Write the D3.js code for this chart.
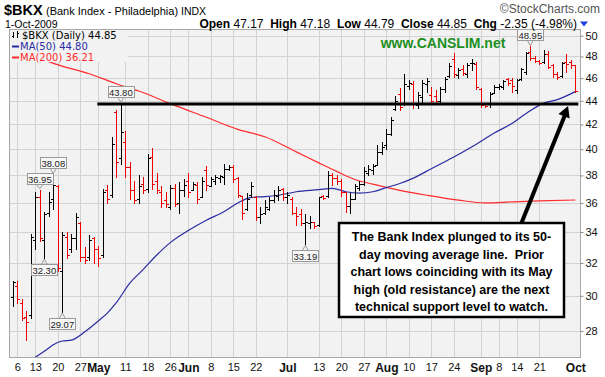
<!DOCTYPE html>
<html><head><meta charset="utf-8">
<script src="https://cdn.jsdelivr.net/npm/d3@7"></script>
<style>
body{margin:0;background:#fff;}
svg{display:block;font-family:"Liberation Sans",Arial,sans-serif;}
</style>
</head><body>
<svg id="chart" width="605" height="377"></svg>
<script>
// ---------------- DATA ----------------
const dates = [
"2009-04-03","2009-04-06","2009-04-07","2009-04-08","2009-04-09",
"2009-04-13","2009-04-14","2009-04-15","2009-04-16","2009-04-17",
"2009-04-20","2009-04-21","2009-04-22","2009-04-23","2009-04-24",
"2009-04-27","2009-04-28","2009-04-29","2009-04-30","2009-05-01",
"2009-05-04","2009-05-05","2009-05-06","2009-05-07","2009-05-08",
"2009-05-11","2009-05-12","2009-05-13","2009-05-14","2009-05-15",
"2009-05-18","2009-05-19","2009-05-20","2009-05-21","2009-05-22",
"2009-05-26","2009-05-27","2009-05-28","2009-05-29",
"2009-06-01","2009-06-02","2009-06-03","2009-06-04","2009-06-05",
"2009-06-08","2009-06-09","2009-06-10","2009-06-11","2009-06-12",
"2009-06-15","2009-06-16","2009-06-17","2009-06-18","2009-06-19",
"2009-06-22","2009-06-23","2009-06-24","2009-06-25","2009-06-26",
"2009-06-29","2009-06-30","2009-07-01","2009-07-02",
"2009-07-06","2009-07-07","2009-07-08","2009-07-09","2009-07-10",
"2009-07-13","2009-07-14","2009-07-15","2009-07-16","2009-07-17",
"2009-07-20","2009-07-21","2009-07-22","2009-07-23","2009-07-24",
"2009-07-27","2009-07-28","2009-07-29","2009-07-30","2009-07-31",
"2009-08-03","2009-08-04","2009-08-05","2009-08-06","2009-08-07",
"2009-08-10","2009-08-11","2009-08-12","2009-08-13","2009-08-14",
"2009-08-17","2009-08-18","2009-08-19","2009-08-20","2009-08-21",
"2009-08-24","2009-08-25","2009-08-26","2009-08-27","2009-08-28",
"2009-08-31","2009-09-01","2009-09-02","2009-09-03","2009-09-04",
"2009-09-08","2009-09-09","2009-09-10","2009-09-11",
"2009-09-14","2009-09-15","2009-09-16","2009-09-17","2009-09-18",
"2009-09-21","2009-09-22","2009-09-23","2009-09-24","2009-09-25",
"2009-09-28","2009-09-29","2009-09-30","2009-10-01"];

const opens = [29.9,30.6,29.6,28.8,28.9, 33.5,36.4,33.5,35.3,36.3, 37.2,31.5,33.7,32.9,33.6,
 34.6,32.4,32.4,33.6,32.9, 32.5,36.9,36.6,43.0,39.3, 40.6,38.6,36.9,36.3,37.4, 37.0,39.4,37.6,36.8,36.2,
 35.7,37.1,36.0,36.9, 37.6,36.9,37.3,36.4,38.4, 37.2,37.6,37.8,37.9,38.5, 38.6,37.8,36.5,35.6,36.6,
 36.4,35.0,35.3,35.6,36.2, 36.5,37.0,36.4,36.3, 35.3,35.2,34.6,34.6,34.7, 34.5,36.5,36.5,38.0,37.8,
 37.6,36.8,35.8,36.3,37.1, 37.4,38.2,38.4,38.8,39.8, 40.3,41.2,43.3,44.6,43.8, 45.3,45.5,43.6,44.3,45.5,
 44.5,44.4,44.0,45.0,46.2, 47.8,46.3,46.8,46.4,47.4, 47.3,45.0,43.7,43.7,44.7, 45.2,45.2,45.9,45.8,
 44.9,45.9,46.6,48.4,47.9, 47.6,47.5,48.2,47.2,46.4, 46.2,47.5,47.5,47.17];
const highs = [30.9,30.9,29.8,29.1,33.9, 36.8,36.95,35.4,36.8,38.08, 37.3,34.0,34.0,33.9,35.3,
 34.7,33.0,33.8,33.7,33.1, 37.0,37.3,41.0,43.2,43.80, 41.5,39.0,37.6,38.0,37.9, 39.6,40.1,38.2,37.2,36.8,
 37.3,37.4,37.5,37.7, 38.2,37.5,37.5,37.9,38.7, 37.9,38.0,38.0,38.9,38.8, 38.8,37.9,36.5,36.7,37.5,
 36.5,35.75,36.2,36.45,36.9, 37.2,37.1,36.8,36.45, 35.75,35.6,35.2,35.1,34.7, 36.45,36.6,38.3,38.15,38.0,
 37.7,36.8,36.7,37.4,37.6, 38.6,38.8,38.9,40.3,40.6, 41.6,42.6,44.4,45.1,46.4, 45.8,45.7,44.8,45.8,46.0,
 45.25,44.96,45.25,46.1,47.35, 48.3,46.9,47.2,47.35,47.8, 47.5,45.1,43.8,44.8,45.4, 45.5,45.8,46.0,46.0,
 45.9,46.9,48.45,48.95,48.0, 47.7,48.6,48.5,47.3,46.6, 47.5,48.2,47.7,47.18];
const lows = [29.4,29.6,28.6,27.5,28.7, 32.9,33.4,32.30,35.1,35.6, 31.5,29.07,32.3,32.7,32.9,
 32.1,32.0,32.2,32.0,31.8, 32.4,36.0,36.4,37.9,38.9, 37.9,36.3,36.0,36.0,36.7, 36.8,37.0,36.7,35.7,35.7,
 35.6,35.8,35.3,36.5, 36.4,36.9,36.0,36.4,36.9, 37.2,37.4,37.5,37.4,38.4, 37.5,36.4,34.9,35.5,36.45,
 34.8,34.6,35.2,35.5,36.1, 36.2,36.2,36.0,35.2, 34.5,34.5,33.19,34.3,34.3, 34.4,36.3,36.4,37.3,37.4,
 36.5,35.4,35.3,36.3,36.9, 37.3,38.0,38.1,38.8,39.6, 40.0,41.1,43.2,43.2,43.65, 45.0,43.4,43.4,43.7,44.8,
 43.8,43.8,43.9,44.8,46.1, 46.1,46.0,46.3,46.1,46.7, 45.0,43.5,43.5,43.5,44.7, 45.0,45.0,45.4,44.8,
 44.7,45.8,46.4,47.7,47.5, 47.3,47.4,46.9,46.1,45.9, 46.1,46.6,46.9,44.79];
const closes = [30.8,29.8,28.7,28.5,33.7, 36.4,33.6,35.2,36.1,37.3, 31.7,33.8,32.5,33.6,35.0,
 32.4,32.2,33.5,32.9,32.3, 36.8,36.3,40.4,39.0,41.4, 38.6,36.9,36.2,37.2,36.9, 39.3,37.4,36.9,36.0,35.9,
 37.1,35.9,36.9,37.3, 36.8,37.4,36.3,37.6,37.3, 37.7,37.9,37.95,38.5,38.6, 37.7,36.6,35.3,36.3,37.2,
 35.0,35.2,35.7,36.2,36.6, 36.9,36.4,36.6,35.3, 35.1,34.6,34.65,34.7,34.4, 36.4,36.35,38.0,37.8,37.6,
 36.8,35.8,36.3,37.2,37.4, 38.3,38.5,38.7,39.8,40.2, 41.2,42.4,44.0,43.5,45.5, 45.6,43.7,44.5,45.6,45.7,
 44.0,43.95,45.0,45.9,47.1, 46.4,46.7,46.5,47.2,47.4, 45.2,43.6,43.55,44.6,45.2, 45.3,45.7,45.6,45.3,
 45.8,46.8,48.3,47.9,47.6, 47.4,48.2,47.0,46.4,46.1, 47.4,47.3,47.2,44.85];

// moving averages
const ma50Dates = ["2009-04-08","2009-04-15","2009-04-17","2009-04-21","2009-04-23","2009-04-28","2009-05-01",
 "2009-05-05","2009-05-07","2009-05-12","2009-05-15","2009-05-20","2009-05-26","2009-06-01","2009-06-05",
 "2009-06-11","2009-06-16","2009-06-19","2009-06-24","2009-06-29","2009-07-06","2009-07-13","2009-07-16",
 "2009-07-21","2009-07-24","2009-07-29","2009-08-03","2009-08-06","2009-08-11","2009-08-17","2009-08-24",
 "2009-08-31","2009-09-04","2009-09-11","2009-09-16","2009-09-22","2009-09-25","2009-10-01"];
const ma50Values = [26.3,26.9,27.25,27.45,27.5,27.95,28.55,29.0,29.6,30.75,31.6,32.5,33.3,34.1,34.8,
 35.4,36.0,36.4,36.45,36.55,36.8,36.95,37.05,36.8,36.7,36.8,37.1,37.4,37.8,38.5,39.4,
 40.4,41.3,42.1,42.9,43.8,44.1,44.80];
const ma200Dates = ["2009-04-03","2009-04-13","2009-04-21","2009-04-29","2009-05-07","2009-05-14","2009-05-27",
 "2009-06-05","2009-06-16","2009-06-24","2009-07-06","2009-07-13","2009-07-17","2009-07-23","2009-07-29",
 "2009-08-06","2009-08-14","2009-08-25","2009-09-02","2009-09-11","2009-09-21","2009-10-01"];
const ma200Values = [48.3,47.9,47.1,46.4,45.5,44.85,43.6,42.6,41.6,41.0,39.8,38.95,38.3,37.7,37.35,
 36.9,36.55,36.2,36.0,36.08,36.15,36.21];

const yTicks = [28,30,32,34,36,38,40,42,44,46,48,50];
const xTickDates = ["2009-04-06","2009-04-13","2009-04-20","2009-04-27","2009-05-01","2009-05-11","2009-05-18",
 "2009-05-26","2009-06-01","2009-06-08","2009-06-15","2009-06-22","2009-07-01","2009-07-13","2009-07-20",
 "2009-07-27","2009-08-03","2009-08-10","2009-08-17","2009-08-24","2009-09-01","2009-09-08","2009-09-14",
 "2009-09-21","2009-10-01"];
const xTickLabels = ["6","13","20","27","May","11","18","26","Jun","8","15","22","Jul","13","20","27","Aug",
 "10","17","24","Sep","8","14","21","Oct"];

const calloutDates = ["2009-04-14","2009-04-17","2009-04-15","2009-04-21","2009-05-08","2009-07-08","2009-09-17"];
const calloutValues = [36.95,38.08,32.30,29.07,43.80,33.19,48.95];
const calloutKinds = ["high","high","low","low","high","low","high"];

const resistanceLevel = 43.80;
const resistanceStart = "2009-05-01";
const noteLines = ["The Bank Index plunged to its 50-","day moving average line.  Prior",
 "chart lows coinciding with its May","high (old resistance) are the next","technical support level to watch."];

// ---------------- CHART ----------------
const plot = {left:9, right:581, top:29, bottom:358};
const svg = d3.select("#chart");
const x = d3.scalePoint().domain(dates).range([12.8, 575.3]);
const xi = d3.scaleLinear().domain([0, dates.length-1]).range([12.8, 575.3]);
const y = d3.scaleLog().domain([26.55, 50.66]).range([plot.bottom, plot.top]);
const px = v => Math.round(v) + 0.5;

svg.append("defs").append("clipPath").attr("id","clip")
  .append("rect").attr("x",plot.left).attr("y",plot.top)
  .attr("width",plot.right-plot.left).attr("height",plot.bottom-plot.top);

svg.append("rect").attr("x",plot.left).attr("y",plot.top)
  .attr("width",plot.right-plot.left).attr("height",plot.bottom-plot.top)
  .attr("fill","#f2f2f2");

// gridlines
const grid = svg.append("g");
grid.selectAll(".hg").data(yTicks).join("line")
  .attr("x1",plot.left).attr("x2",plot.right)
  .attr("y1",d=>px(y(d))).attr("y2",d=>px(y(d)))
  .attr("stroke","#d2d2d2");
grid.selectAll(".vg").data(xTickDates.filter(d=>d!=="2009-10-01")).join("line")
  .attr("x1",d=>px(x(d))).attr("x2",d=>px(x(d)))
  .attr("y1",plot.top).attr("y2",plot.bottom)
  .attr("stroke","#d2d2d2");

const inner = svg.append("g").attr("clip-path","url(#clip)");

// moving averages
const line = d3.line().curve(d3.curveMonotoneX);
inner.append("path")
  .attr("d", line(ma200Dates.map((d,i)=>[x(d), y(ma200Values[i])])))
  .attr("fill","none").attr("stroke","#ff2a2a").attr("stroke-width",1.2);
inner.append("path")
  .attr("d", line(ma50Dates.map((d,i)=>[x(d), y(ma50Values[i])])))
  .attr("fill","none").attr("stroke","#2b2ba3").attr("stroke-width",1.2);

// OHLC bars
const bars = inner.append("g");
dates.forEach((d,i)=>{
  const col = (i===0 || closes[i] >= closes[i-1]) ? "#000" : "#f00000";
  const cx = px(x(d));
  const g = bars.append("g").attr("stroke",col).attr("stroke-width",1);
  g.append("line").attr("x1",cx).attr("x2",cx).attr("y1",Math.round(y(highs[i]))).attr("y2",Math.round(y(lows[i]))+1);
  g.append("line").attr("x1",cx-2.5).attr("x2",cx).attr("y1",px(y(opens[i]))).attr("y2",px(y(opens[i])));
  g.append("line").attr("x1",cx).attr("x2",cx+2.5).attr("y1",px(y(closes[i]))).attr("y2",px(y(closes[i])));
});

// resistance line
inner.append("line")
  .attr("x1",x(resistanceStart)-1).attr("x2",x(dates[dates.length-1])+3)
  .attr("y1",y(resistanceLevel)+1).attr("y2",y(resistanceLevel)+1)
  .attr("stroke","#000").attr("stroke-width",3);

// callouts
const co = svg.append("g").attr("font-size","9.5px");
calloutDates.forEach((d,i)=>{
  const cx = x(d), vy = y(calloutValues[i]);
  const txt = calloutValues[i].toFixed(2);
  const w = 26, h = 11;
  const hi = calloutKinds[i]==="high";
  const by = hi ? vy-6-h : vy+6;
  const g = co.append("g");
  g.append("rect").attr("x",Math.round(cx-w/2)+0.5).attr("y",Math.round(by)+0.5).attr("width",w).attr("height",h)
    .attr("fill","#f7f7f7").attr("stroke","#9a9a9a");
  const tipY = hi ? vy-1 : vy+1;
  const baseY = hi ? Math.round(by)+h+0.5 : Math.round(by)+0.5;
  g.append("path").attr("d",`M${cx-3},${baseY} L${cx},${tipY} L${cx+3},${baseY}`)
    .attr("fill","none").attr("stroke","#9a9a9a");
  g.append("text").attr("x",cx).attr("y",Math.round(by)+h-1.5).attr("text-anchor","middle")
    .attr("fill","#222").text(txt);
});

// plot border
svg.append("rect").attr("x",plot.left+0.5).attr("y",plot.top+0.5)
  .attr("width",plot.right-plot.left-1).attr("height",plot.bottom-plot.top-1)
  .attr("fill","none").attr("stroke","#a8a8a8");

// right axis
const yAxis = d3.axisRight(y).tickValues(yTicks).tickSize(3).tickFormat(d3.format("d"));
const ya = svg.append("g").attr("transform",`translate(${plot.right-0.5},0)`).call(yAxis);
ya.select(".domain").remove();
ya.selectAll("line").attr("stroke","#888");
ya.selectAll("text").attr("font-size","11px").attr("fill","#111").attr("x",5)
  .attr("font-family","Liberation Sans, Arial, sans-serif");

// bottom axis
const xAxis = d3.axisBottom(x).tickValues(xTickDates).tickSize(0).tickFormat((d,i)=>xTickLabels[i]);
const xa = svg.append("g").attr("transform",`translate(0,${plot.bottom+1})`).call(xAxis);
xa.select(".domain").remove();
xa.selectAll("text").attr("font-size",(d,i)=>isNaN(+xTickLabels[i])?"12px":"11px")
  .attr("font-weight",(d,i)=>isNaN(+xTickLabels[i])?"bold":"normal")
  .attr("fill","#111").attr("font-family","Liberation Sans, Arial, sans-serif").attr("dy","0.8em");

// legend
const lg = svg.append("g").attr("font-family","DejaVu Sans, Verdana, sans-serif").attr("font-size","10px");
lg.append("rect").attr("x",plot.left+1).attr("y",plot.top+1).attr("width",118).attr("height",32).attr("fill","#f2f2f2");
const ic = lg.append("g").attr("stroke","#000");
ic.append("line").attr("x1",13.5).attr("x2",13.5).attr("y1",32).attr("y2",38);
ic.append("line").attr("x1",12).attr("x2",13.5).attr("y1",36.5).attr("y2",36.5);
ic.append("line").attr("x1",17.5).attr("x2",17.5).attr("y1",31).attr("y2",38);
ic.append("line").attr("x1",17.5).attr("x2",19).attr("y1",33.5).attr("y2",33.5);
lg.append("text").attr("x",22).attr("y",39).attr("fill","#000").text("$BKX (Daily) 44.85");
lg.append("line").attr("x1",12).attr("x2",19).attr("y1",46.5).attr("y2",46.5).attr("stroke","#2b2ba3").attr("stroke-width",2);
lg.append("text").attr("x",20).attr("y",50).attr("fill","#2b2ba3").text("MA(50) 44.80");
lg.append("line").attr("x1",12).attr("x2",19).attr("y1",57.5).attr("y2",57.5).attr("stroke","#ff2a2a").attr("stroke-width",2);
lg.append("text").attr("x",20).attr("y",61).attr("fill","#ff2a2a").text("MA(200) 36.21");

// CANSLIM watermark
svg.append("text").attr("x",443).attr("y",48).attr("text-anchor","middle")
  .attr("font-size","14px").attr("font-weight","bold").attr("fill","#1d8f1d").text("www.CANSLIM.net");

// arrow
const arrowFrom = [xi(112.5), y(34.2)], arrowTo = [xi(123.4), y(43.55)];
svg.append("line").attr("x1",arrowFrom[0]).attr("y1",arrowFrom[1])
  .attr("x2",arrowTo[0]-1.5).attr("y2",arrowTo[1]+5)
  .attr("stroke","#000").attr("stroke-width",4);
{
  const ang = Math.atan2(arrowTo[1]-arrowFrom[1], arrowTo[0]-arrowFrom[0]);
  const L = 11, Wd = 6;
  const bx = arrowTo[0]-L*Math.cos(ang), by = arrowTo[1]-L*Math.sin(ang);
  const p1 = [bx+Wd*Math.sin(ang), by-Wd*Math.cos(ang)];
  const p2 = [bx-Wd*Math.sin(ang), by+Wd*Math.cos(ang)];
  svg.append("path").attr("d",`M${arrowTo[0]},${arrowTo[1]} L${p1[0]},${p1[1]} L${p2[0]},${p2[1]} Z`).attr("fill","#000");
}

// note box
const nb = svg.append("g");
nb.append("rect").attr("x",339).attr("y",223).attr("width",225).attr("height",94)
  .attr("fill","#fff").attr("stroke","#000").attr("stroke-width",2.5);
nb.selectAll("text").data(noteLines).join("text")
  .attr("x",451.5).attr("y",(d,i)=>241+i*17.5).attr("text-anchor","middle")
  .attr("font-size","12.5px").attr("font-weight","bold").attr("fill","#000")
  .style("white-space","pre").text(d=>d);

// header
const hd = svg.append("g").attr("fill","#000");
hd.append("text").attr("x",4).attr("y",14.5).attr("font-size","14.5px").attr("font-weight","bold").text("$BKX");
hd.append("text").attr("x",46).attr("y",14.5).attr("font-size","11px").text("(Bank Index - Philadelphia)");
hd.append("text").attr("x",181).attr("y",14.5).attr("font-size","10.5px").text("INDX");
hd.append("text").attr("x",600).attr("y",13).attr("text-anchor","end").attr("font-size","12px").attr("fill","#555").text("©StockCharts.com");
hd.append("text").attr("x",5).attr("y",28).attr("font-size","10.5px").text("1-Oct-2009");
const sm = hd.append("text").attr("x",577).attr("y",27.5).attr("text-anchor","end").attr("font-size","12px");
[["Open ",true],["47.17  ",false],["High ",true],["47.18  ",false],["Low ",true],["44.79  ",false],
 ["Close ",true],["44.85  ",false],["Chg ",true],["-2.35 (-4.98%)",false]].forEach(([t,b])=>{
  sm.append("tspan").attr("font-weight",b?"bold":"normal").style("white-space","pre").text(t);
});
hd.append("path").attr("d","M580,21.5 L588,21.5 L584,26.5 Z").attr("fill","#1f3fe0");
</script>
</body></html>
